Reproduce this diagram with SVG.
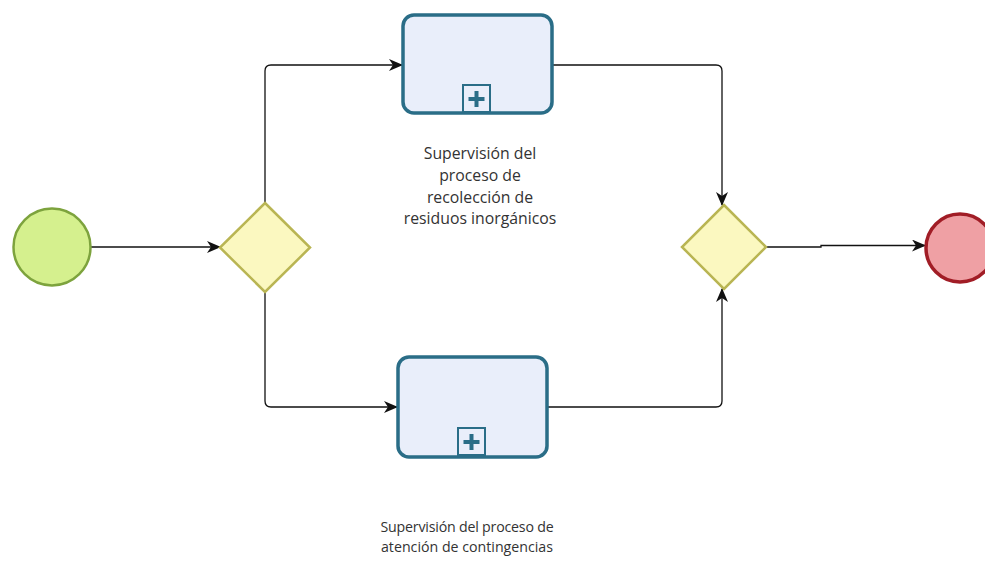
<svg xmlns="http://www.w3.org/2000/svg" width="985" height="566" viewBox="0 0 985 566">
  <style>
    .flow { fill: none; stroke: #111; stroke-width: 1.3; marker-end: url(#arrow); }
    .task { fill: #e9eefa; stroke: #2a6d87; stroke-width: 3.5; }
    .marker { fill: #e9eefa; stroke: #2a6d87; stroke-width: 2; }
    .plus { fill: #2a6d87; }
    .gateway { fill: #fbf8c0; stroke: #b9b553; stroke-width: 2.5; }
    .label { font-family: "Open Sans", "Liberation Sans", sans-serif; fill: #333; text-anchor: middle; }
    .top { font-size: 15.8px; }
    .bottom { font-size: 14.2px; }
  </style>
  <defs>
    <marker id="arrow" viewBox="0 0 14 12" refX="13" refY="6" markerWidth="14" markerHeight="12" markerUnits="userSpaceOnUse" orient="auto">
      <path d="M0,0 L14,6 L0,12 L4,6 Z" fill="#111"/>
    </marker>
  </defs>
  <rect width="985" height="566" fill="#fff"/>

  <!-- sequence flows -->
  <g id="connectors">
    <path class="flow" d="M91,247 H220"/>
    <path class="flow" d="M265,203 V71 Q265,65 271,65 H402"/>
    <path class="flow" d="M265,292 V401 Q265,407 271,407 H397"/>
    <path class="flow" d="M552,65 H716 Q722,65 722,71 V205"/>
    <path class="flow" d="M547,407 H716 Q722,407 722,401 V289"/>
    <path class="flow" d="M766,247 H821 V245.5 H925"/>
  </g>

  <!-- start event -->
  <g id="start">
    <circle cx="52" cy="247" r="38.5" fill="#d5f08e" stroke="#7da33d" stroke-width="2.5"/>
  </g>

  <!-- parallel split -->
  <g id="split">
    <polygon class="gateway" points="265,203 310,247.5 265,292 220,247.5"/>
  </g>

  <!-- collapsed subprocess: inorganic waste collection -->
  <g id="task-collection">
    <rect class="task" x="403" y="15" width="149" height="98" rx="11"/>
    <rect class="marker" x="463" y="85" width="27" height="27"/>
    <rect class="plus" x="474.5" y="91" width="4" height="16"/>
    <rect class="plus" x="468.5" y="97" width="16" height="4"/>
    <text class="label top" x="480" y="159">Supervisión del</text>
    <text class="label top" x="480" y="181">proceso de</text>
    <text class="label top" x="480" y="203">recolección de</text>
    <text class="label top" x="480" y="224">residuos inorgánicos</text>
  </g>

  <!-- collapsed subprocess: contingency handling -->
  <g id="task-contingency">
    <rect class="task" x="398" y="357" width="149" height="100" rx="11"/>
    <rect class="marker" x="458" y="428" width="27" height="27"/>
    <rect class="plus" x="469.5" y="434" width="4" height="16"/>
    <rect class="plus" x="463.5" y="440" width="16" height="4"/>
    <text class="label bottom" x="467" y="532" letter-spacing="-0.2">Supervisión del proceso de</text>
    <text class="label bottom" x="467" y="552">atención de contingencias</text>
  </g>

  <!-- parallel join -->
  <g id="join">
    <polygon class="gateway" points="724,205 766,247 724,289 682,247"/>
  </g>

  <!-- end event -->
  <g id="end">
    <circle cx="960" cy="248" r="34" fill="#efa0a4" stroke="#a11d26" stroke-width="3.5"/>
  </g>
</svg>
